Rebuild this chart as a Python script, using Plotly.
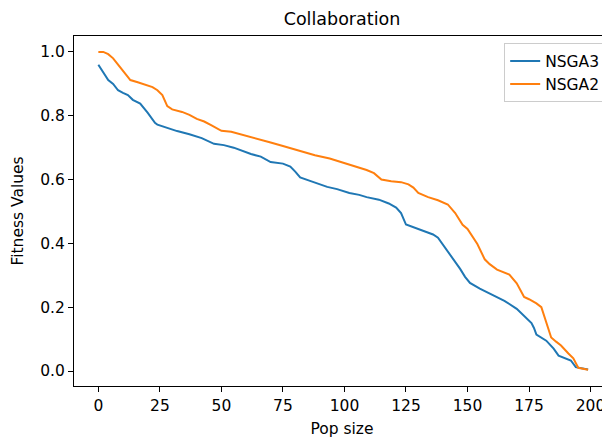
import plotly.graph_objects as go

# NSGA3 (blue) readings: x position, fitness value
nsga3_x = [0, 2, 4, 6, 8, 10, 12, 14, 17, 20, 23, 24, 28, 32, 37, 42, 47, 51, 55, 58,
           62, 66, 70, 75, 78, 80, 82, 86, 90, 93, 97, 102, 106, 109, 114, 118, 121, 123,
           125, 128, 132, 136, 138, 141, 144, 147, 149, 151, 155, 160, 165, 170, 173, 176,
           177, 178, 182, 185, 187, 190, 192, 194, 197, 199]
nsga3_y = [0.96, 0.935, 0.912, 0.90, 0.88, 0.872, 0.865, 0.85, 0.838, 0.81, 0.778, 0.772,
           0.762, 0.752, 0.742, 0.73, 0.712, 0.708, 0.70, 0.692, 0.68, 0.672, 0.655, 0.65,
           0.641, 0.625, 0.607, 0.596, 0.584, 0.577, 0.57, 0.558, 0.552, 0.545, 0.537, 0.525,
           0.512, 0.495, 0.459, 0.45, 0.438, 0.428, 0.418, 0.385, 0.355, 0.32, 0.295, 0.276,
           0.258, 0.24, 0.22, 0.195, 0.172, 0.15, 0.135, 0.114, 0.095, 0.07, 0.048, 0.038,
           0.033, 0.012, 0.008, 0.005]

# NSGA2 (orange) readings
nsga2_x = [0, 2, 4, 6, 8, 10, 13, 16, 19, 22, 24, 26, 28, 30, 34, 37, 40, 43, 46, 50, 54,
           58, 62, 66, 70, 75, 80, 84, 88, 94, 98, 102, 106, 109, 112, 115, 119, 123, 126,
           128, 130, 134, 138, 142, 145, 148, 150, 152, 154, 157, 159, 162, 167, 170, 173,
           175, 178, 180, 182, 184, 186, 188, 191, 193, 195, 197, 199]
nsga2_y = [1.0, 1.0, 0.993, 0.98, 0.96, 0.94, 0.912, 0.905, 0.898, 0.89, 0.88, 0.865, 0.83,
           0.82, 0.812, 0.803, 0.79, 0.782, 0.77, 0.753, 0.75, 0.742, 0.733, 0.725, 0.716,
           0.705, 0.693, 0.684, 0.676, 0.666, 0.657, 0.648, 0.638, 0.63, 0.62, 0.60, 0.595,
           0.592, 0.585, 0.575, 0.558, 0.545, 0.535, 0.522, 0.495, 0.458, 0.445, 0.42, 0.398,
           0.35, 0.335, 0.318, 0.302, 0.275, 0.232, 0.225, 0.212, 0.20, 0.15, 0.105, 0.092,
           0.08, 0.055, 0.04, 0.01, 0.006, 0.004]

x_ticks = [0, 25, 50, 75, 100, 125, 150, 175, 200]
y_ticks = [0.0, 0.2, 0.4, 0.6, 0.8, 1.0]

FONT = "DejaVu Sans"
FS = 15.5

fig = go.Figure()
fig.add_trace(go.Scatter(x=nsga3_x, y=nsga3_y, mode="lines", name="NSGA3",
                         line=dict(color="#1f77b4", width=2)))
fig.add_trace(go.Scatter(x=nsga2_x, y=nsga2_y, mode="lines", name="NSGA2",
                         line=dict(color="#ff7f0e", width=2)))

# the page body adds an 8px offset, so the figure is 8px smaller on each axis
W, H = 602, 433
fig.update_layout(
    width=W, height=H,
    margin=dict(l=66, r=0, t=28, b=55, autoexpand=False),
    paper_bgcolor="white", plot_bgcolor="white",
    font=dict(family=FONT, size=FS, color="black"),
    title=dict(text="Collaboration", x=0.5, xref="paper", xanchor="center",
               y=1 - 11 / H, yref="container", yanchor="middle",
               font=dict(family=FONT, size=17.5, color="black")),
    showlegend=True,
    legend=dict(x=0.991, xanchor="right", y=0.979, yanchor="top",
                bgcolor="white", bordercolor="#cccccc", borderwidth=1,
                font=dict(family=FONT, size=FS, color="black")),
    xaxis=dict(range=[-9.9, 207.9], tickmode="array", tickvals=x_ticks,
               ticktext=[str(v) for v in x_ticks],
               showgrid=False, zeroline=False, showline=True, linecolor="black",
               linewidth=1, mirror=True, ticks="outside", ticklen=5,
               tickcolor="black", tickwidth=1, automargin=False,
               title=dict(text="Pop size", standoff=9, font=dict(family=FONT, size=FS))),
    yaxis=dict(range=[-0.047, 1.05], tickmode="array", tickvals=y_ticks,
               ticktext=[f"{v:.1f}" for v in y_ticks],
               showgrid=False, zeroline=False, showline=True, linecolor="black",
               linewidth=1, mirror=False, ticks="outside", ticklen=5,
               tickcolor="black", tickwidth=1, automargin=False,
               title=dict(text="Fitness Values", standoff=12, font=dict(family=FONT, size=FS))),
)

fig.write_html("out.html")
